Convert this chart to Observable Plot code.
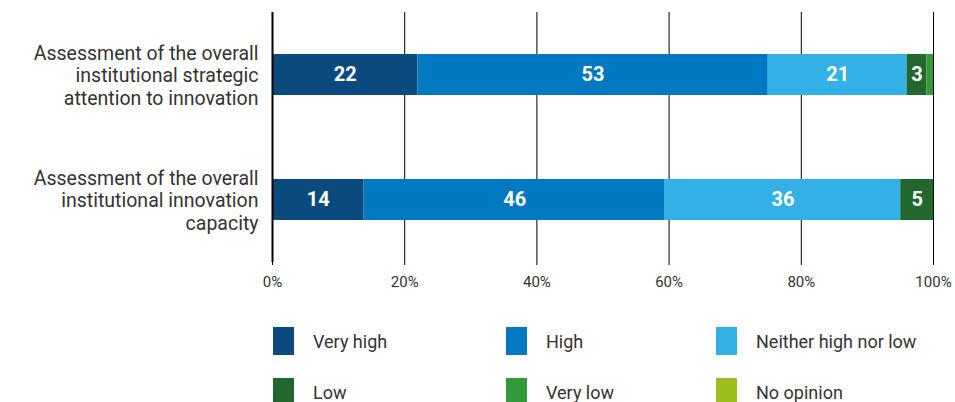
<!DOCTYPE html>
<html>
<head>
<meta charset="utf-8">
<script src="https://cdn.jsdelivr.net/npm/d3@7"></script>
<script src="https://cdn.jsdelivr.net/npm/@observablehq/plot@0.6"></script>
<style>
  body { margin: 0; background: #fff; font-family: Roboto, sans-serif; }
  #chart svg { display: block; }
  .legend { position: relative; height: 102px; }
  .item { position: absolute; display: flex; align-items: center; font-size: 18px; color: #333; }
  .sw { width: 21px; height: 28px; margin-right: 19px; }
</style>
</head>
<body>
<div id="chart"></div>
<div class="legend" id="legend"></div>
<script>
const questions = [
  "Assessment of the overall\ninstitutional strategic\nattention to innovation",
  "Assessment of the overall\ninstitutional innovation\ncapacity"
];
const levels = ["Very high", "High", "Neither high nor low", "Low", "Very low", "No opinion"];
const colors = ["#0b4a7e", "#0079c2", "#33b1e6", "#22672e", "#34993a", "#9cbe1e"];
const strategicValues = [22, 53, 21, 3, 1, 0];
const capacityValues = [14, 46, 36, 5, 0, 0];
const xTicks = [0, 0.2, 0.4, 0.6, 0.8, 1];

const data = [];
levels.forEach((lv, i) => {
  data.push({question: questions[0], level: lv, value: strategicValues[i]});
  data.push({question: questions[1], level: lv, value: capacityValues[i]});
});

const chart = Plot.plot({
  width: 955,
  height: 300,
  marginLeft: 272,
  marginRight: 22,
  marginTop: 12,
  marginBottom: 38,
  style: {fontFamily: "Roboto, sans-serif", color: "#333", background: "#fff"},
  x: {domain: [0, 1]},
  y: {domain: questions, paddingInner: 0.672, paddingOuter: 0.336},
  color: {domain: levels, range: colors},
  marks: [
    Plot.gridX({ticks: xTicks.slice(1), stroke: "#000", strokeOpacity: 1, strokeWidth: 1}),
    Plot.barX(data, Plot.stackX({offset: "normalize", order: levels, x: "value", y: "question", fill: "level"})),
    Plot.textX(data, Plot.stackX({
      offset: "normalize", order: levels, x: "value", y: "question", z: "level",
      text: d => d.value >= 3 ? String(d.value) : "",
      fill: "white", fontWeight: "bold", fontSize: 20
    })),
    Plot.ruleX([0], {stroke: "#000", strokeWidth: 2}),
    Plot.axisX({ticks: xTicks, tickFormat: d3.format(".0%"), tickSize: 3, tickPadding: 11, fontSize: 15, label: null, stroke: "#000"}),
    Plot.axisY({tickSize: 0, tickPadding: 14, fontSize: 19.5, lineHeight: 1.15, label: null, fill: "#333"})
  ]
});
document.getElementById("chart").appendChild(chart);

const legend = document.getElementById("legend");
const colX = [273, 506, 716];
const rowY = [27, 78];
levels.forEach((lv, i) => {
  const div = document.createElement("div");
  div.className = "item";
  div.style.left = colX[i % 3] + "px";
  div.style.top = rowY[Math.floor(i / 3)] + "px";
  const sw = document.createElement("div");
  sw.className = "sw";
  sw.style.background = colors[i];
  const t = document.createElement("span");
  t.textContent = lv;
  div.appendChild(sw);
  div.appendChild(t);
  legend.appendChild(div);
});
</script>
</body>
</html>
